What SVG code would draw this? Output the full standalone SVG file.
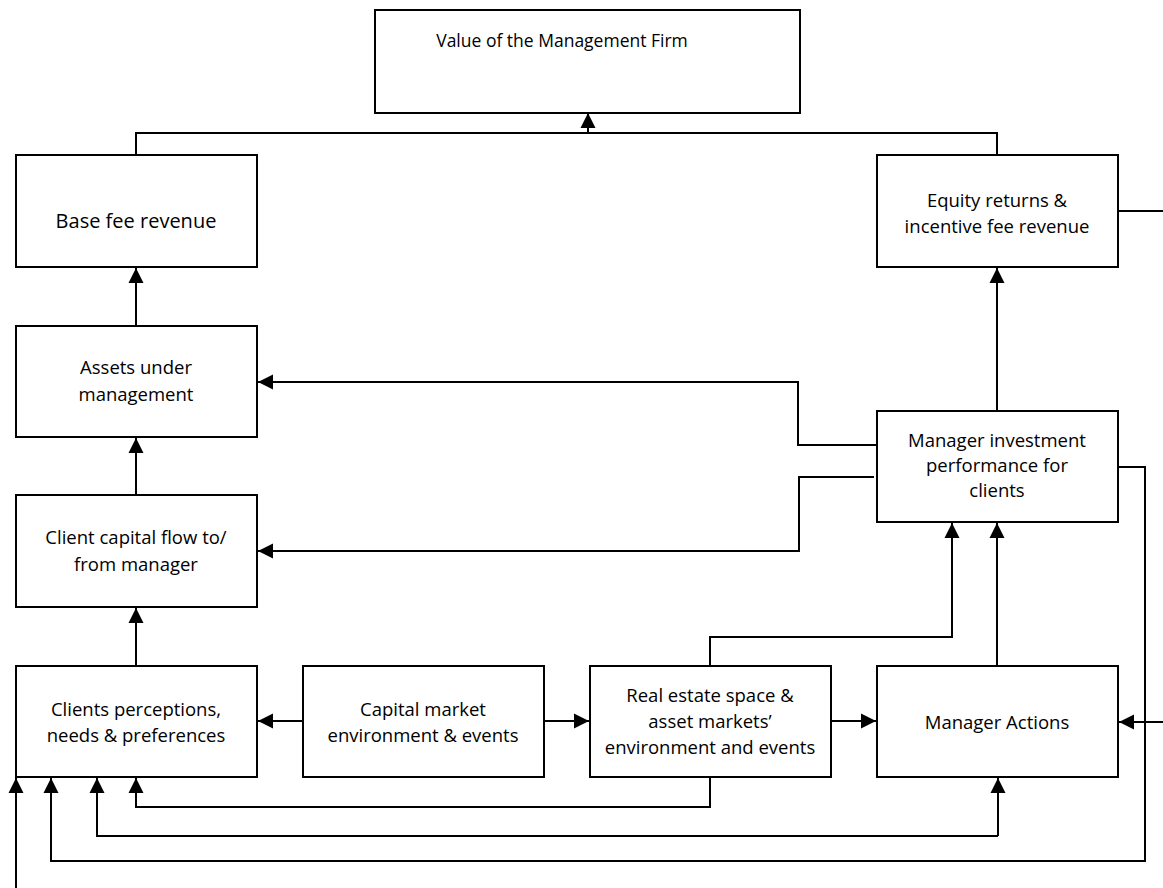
<svg xmlns="http://www.w3.org/2000/svg" width="1163" height="888" viewBox="0 0 1163 888">
<style>
.box{fill:#fff;stroke:#000;stroke-width:2}
.c{fill:none;stroke:#000;stroke-width:2}
text{font-family:"Open Sans","Liberation Sans",sans-serif;font-size:18.5px;fill:#000;text-anchor:middle}
.v{font-size:17.5px}
.big{font-size:20px}
</style>
<defs>
<marker id="ah" markerUnits="userSpaceOnUse" markerWidth="16" markerHeight="16" viewBox="0 0 16 16" refX="15" refY="8" orient="auto">
<path d="M0,0.5 L15,8 L0,15.5 Z" fill="#000"/>
</marker>
</defs>
<g id="connectors">
<path class="c" d="M136,155 V133 H997 V155"/>
<path class="c" d="M588,133 V113" marker-end="url(#ah)"/>
<path class="c" d="M136,326 V268" marker-end="url(#ah)"/>
<path class="c" d="M136,495 V438" marker-end="url(#ah)"/>
<path class="c" d="M136,666 V608" marker-end="url(#ah)"/>
<path class="c" d="M303,721 H258" marker-end="url(#ah)"/>
<path class="c" d="M544,721 H589" marker-end="url(#ah)"/>
<path class="c" d="M831,721 H876" marker-end="url(#ah)"/>
<path class="c" d="M997,666 V523" marker-end="url(#ah)"/>
<path class="c" d="M710,666 V637 H952 V523" marker-end="url(#ah)"/>
<path class="c" d="M997,411 V268" marker-end="url(#ah)"/>
<path class="c" d="M877,445 H798 V382 H258" marker-end="url(#ah)"/>
<path class="c" d="M874,477 H799 V551 H258" marker-end="url(#ah)"/>
<path class="c" d="M1118,211 H1163"/>
<path class="c" d="M1163,722 H1119" marker-end="url(#ah)"/>
<path class="c" d="M1118,467 H1145 V861 H51 V778" marker-end="url(#ah)"/>
<path class="c" d="M998,836 V778" marker-end="url(#ah)"/>
<path class="c" d="M998,836 H97 V778" marker-end="url(#ah)"/>
<path class="c" d="M710,777 V807 H136 V778" marker-end="url(#ah)"/>
<path class="c" d="M16,888 V778" marker-end="url(#ah)"/>
</g>
<g id="value"><rect class="box" x="375" y="10" width="425" height="103"/><text class="v" x="562" y="47">Value of the Management Firm</text></g>
<g id="basefee"><rect class="box" x="16" y="155" width="241" height="112"/><text class="big" x="136" y="228">Base fee revenue</text></g>
<g id="equity"><rect class="box" x="877" y="155" width="241" height="112"/><text x="997" y="207">Equity returns &amp;</text><text x="997" y="233">incentive fee revenue</text></g>
<g id="aum"><rect class="box" x="16" y="326" width="241" height="111"/><text x="136" y="374">Assets under</text><text x="136" y="401">management</text></g>
<g id="capflow"><rect class="box" x="16" y="495" width="241" height="112"/><text x="136" y="544">Client capital flow to/</text><text x="136" y="571">from manager</text></g>
<g id="perf"><rect class="box" x="877" y="411" width="241" height="111"/><text x="997" y="447">Manager investment</text><text x="997" y="472">performance for</text><text x="997" y="497">clients</text></g>
<g id="clients"><rect class="box" x="16" y="666" width="241" height="111"/><text x="136" y="716">Clients perceptions,</text><text x="136" y="742">needs &amp; preferences</text></g>
<g id="capmkt"><rect class="box" x="303" y="666" width="241" height="111"/><text x="423" y="716">Capital market</text><text x="423" y="742">environment &amp; events</text></g>
<g id="realestate"><rect class="box" x="590" y="666" width="241" height="111"/><text x="710" y="702">Real estate space &amp;</text><text x="710" y="728">asset markets’</text><text x="710" y="754">environment and events</text></g>
<g id="actions"><rect class="box" x="877" y="666" width="241" height="111"/><text x="997" y="729">Manager Actions</text></g>
</svg>
